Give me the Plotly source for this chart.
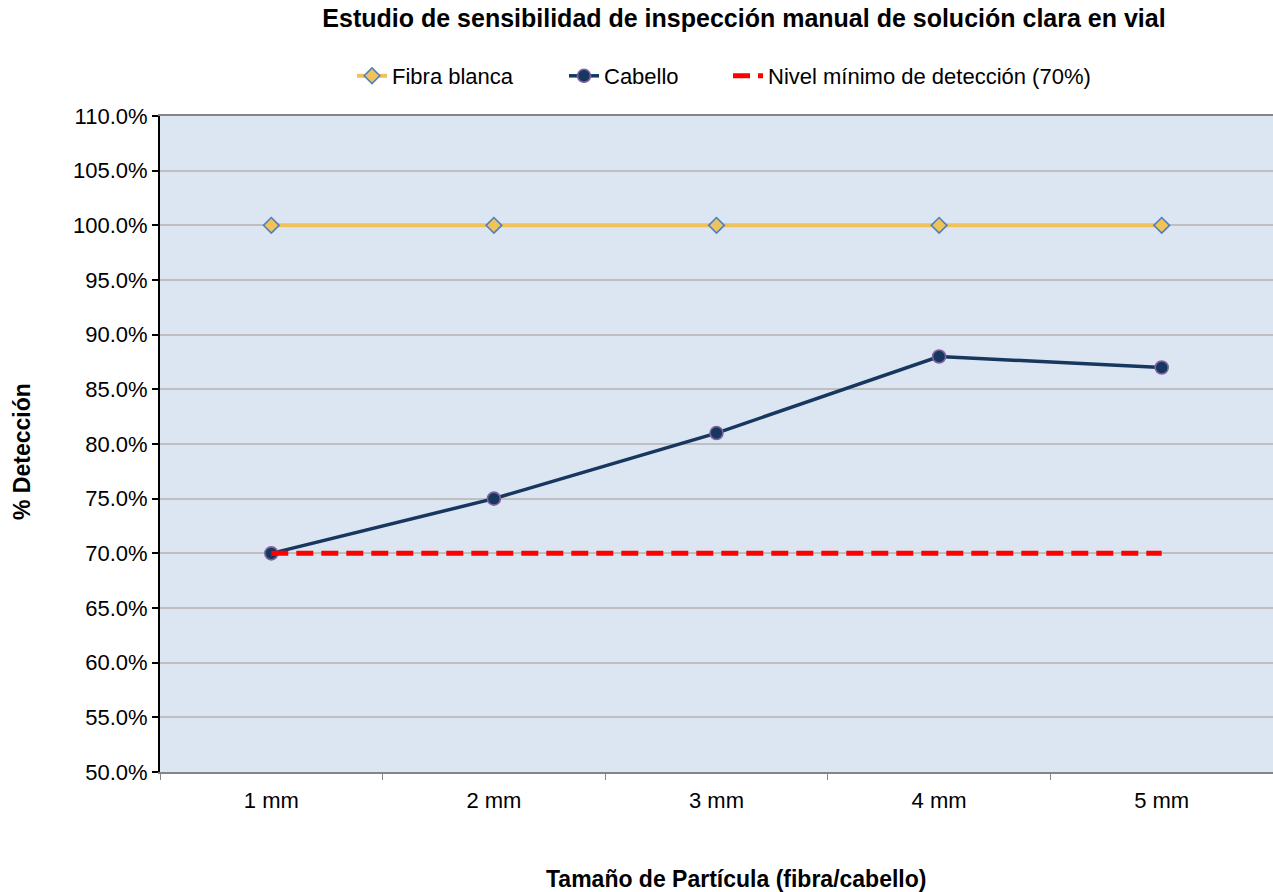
import plotly.graph_objects as go

# Particle sizes and detection rates
tamanos = ["1 mm", "2 mm", "3 mm", "4 mm", "5 mm"]
fibra_blanca = [1.00, 1.00, 1.00, 1.00, 1.00]
cabello = [0.70, 0.75, 0.81, 0.88, 0.87]
nivel_minimo = [0.70, 0.70, 0.70, 0.70, 0.70]

FONT = "Liberation Sans, Arial, sans-serif"
W, H = 1273, 892
L, R, T, B = 160, 0, 116, 120
pw, ph = W - L - R, H - T - B

fig = go.Figure()

fig.add_trace(go.Scatter(
    x=tamanos, y=fibra_blanca, name="Fibra blanca", mode="lines+markers",
    line=dict(color="#EFC25A", width=4),
    marker=dict(symbol="diamond", size=12, color="#EFC25A",
                line=dict(color="#4F81BD", width=1.6)),
    legend="legend",
))
fig.add_trace(go.Scatter(
    x=tamanos, y=cabello, name="Cabello", mode="lines+markers",
    line=dict(color="#17375E", width=3.5),
    marker=dict(symbol="circle", size=13, color="#17375E",
                line=dict(color="#8064A2", width=1.6)),
    legend="legend2",
))
fig.add_trace(go.Scatter(
    x=tamanos, y=nivel_minimo, name="Nivel mínimo de detección (70%)", mode="lines",
    line=dict(color="#FF0000", width=5, dash="17px,8px"),
    legend="legend3",
))


def legend_box(left_px):
    # one legend entry per box, left edge given in pixels
    return dict(
        orientation="h", xref="paper", x=(left_px - L) / pw, xanchor="left",
        yref="paper", y=1 + (T - 76) / ph, yanchor="middle",
        font=dict(family=FONT, size=22), bgcolor="rgba(0,0,0,0)",
        borderwidth=0,
    )


fig.update_layout(
    width=W, height=H,
    margin=dict(l=L, r=R, t=T, b=B),
    paper_bgcolor="white",
    plot_bgcolor="#DCE6F2",
    font=dict(family=FONT, size=22, color="black"),
    title=dict(
        text="<b>Estudio de sensibilidad de inspección manual de solución clara en vial</b>",
        font=dict(family=FONT, size=25, color="black"),
        xref="container", x=744 / W, xanchor="center",
        yref="container", y=1 - 18 / H, yanchor="middle",
    ),
    legend=legend_box(352),
    legend2=legend_box(564),
    legend3=legend_box(728),
    showlegend=True,
)

fig.update_xaxes(
    type="category", range=[-0.5, 4.5],
    showgrid=False, zeroline=False,
    showline=True, linecolor="#868686", linewidth=2, mirror=True,
    ticks="outside", tickson="boundaries", ticklen=6, tickcolor="#868686", tickwidth=1,
    ticklabelstandoff=8,
    tickfont=dict(family=FONT, size=22, color="black"),
)
fig.update_yaxes(
    range=[0.5, 1.1], dtick=0.05, tick0=0.5, tickformat=".1%",
    showgrid=True, gridcolor="#BFBFBF", gridwidth=1.5, zeroline=False,
    showline=True, linecolor="black", linewidth=2,
    ticks="outside", ticklen=6, tickcolor="black", tickwidth=2,
    tickfont=dict(family=FONT, size=22, color="black"),
)

fig.add_annotation(
    text="<b>% Detección</b>", textangle=-90, showarrow=False,
    xref="paper", yref="paper", x=(22 - L) / pw, y=(H - B - 452) / ph,
    xanchor="center", yanchor="middle",
    font=dict(family=FONT, size=23, color="black"),
)
fig.add_annotation(
    text="<b>Tamaño de Partícula (fibra/cabello)</b>", showarrow=False,
    xref="paper", yref="paper", x=(736 - L) / pw, y=-(879 - (H - B)) / ph,
    xanchor="center", yanchor="middle",
    font=dict(family=FONT, size=23, color="black"),
)

fig.write_html("out.html")
